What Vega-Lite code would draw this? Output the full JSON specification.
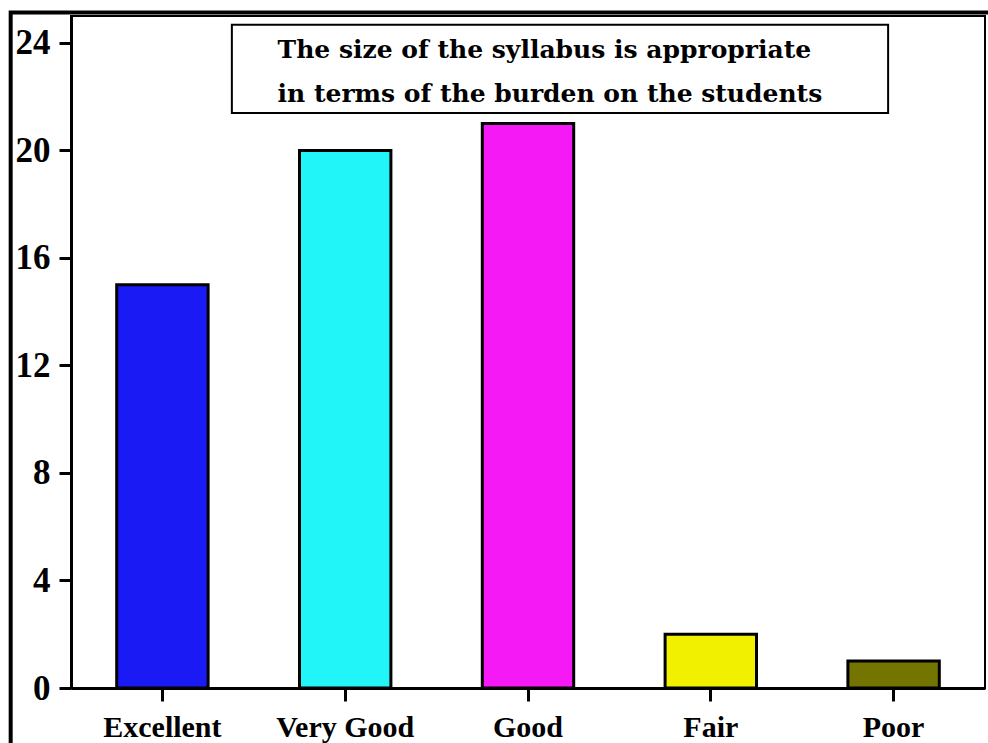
{
  "$schema": "https://vega.github.io/schema/vega-lite/v6.json",
  "width": 914,
  "height": 672,
  "autosize": {"type": "none"},
  "padding": {"left": 71, "top": 16, "right": 3, "bottom": 55},
  "background": "white",
  "config": {
    "view": {"stroke": "black", "strokeWidth": 2},
    "axis": {"grid": false, "labelFont": "Liberation Serif", "labelFontWeight": "bold", "labelColor": "black", "domainColor": "black", "tickColor": "black"}
  },
  "layer": [
    {
      "data": {"values": [
        {"rating": "Excellent", "count": 15, "color": "#1a1af5"},
        {"rating": "Very Good", "count": 20, "color": "#22f5f8"},
        {"rating": "Good", "count": 21, "color": "#f51af5"},
        {"rating": "Fair", "count": 2, "color": "#f0f000"},
        {"rating": "Poor", "count": 1, "color": "#747400"}
      ]},
      "mark": {"type": "bar", "stroke": "black", "strokeWidth": 3},
      "encoding": {
        "x": {"field": "rating", "type": "nominal", "sort": null,
          "scale": {"paddingInner": 0.5, "paddingOuter": 0.25},
          "axis": {"title": null, "labelAngle": 0, "labelFontSize": 30, "tickSize": 13, "tickWidth": 3, "domainWidth": 3, "labelPadding": 11}},
        "y": {"field": "count", "type": "quantitative",
          "scale": {"domain": [0, 25], "nice": false},
          "axis": {"title": null, "values": [0, 4, 8, 12, 16, 20, 24], "labelFontSize": 35, "tickSize": 12, "tickWidth": 3, "domainWidth": 3, "labelPadding": 9, "labelBaseline": "middle"}},
        "color": {"field": "color", "type": "nominal", "scale": null, "legend": null}
      }
    },
    {
      "data": {"values": [{"x0": 17.6, "x1": 89.4, "y0": 21.39, "y1": 24.67}]},
      "mark": {"type": "rect", "fill": "white", "stroke": "black", "strokeWidth": 2},
      "encoding": {
        "x": {"field": "x0", "type": "quantitative", "scale": {"domain": [0, 100], "nice": false, "zero": false}, "axis": null},
        "x2": {"field": "x1"},
        "y": {"field": "y0", "type": "quantitative", "scale": {"domain": [0, 25], "nice": false}},
        "y2": {"field": "y1"}
      }
    },
    {
      "data": {"values": [
        {"label": "The size of the syllabus is appropriate", "px": 22.6, "py": 23.74},
        {"label": "in terms of the burden on the students", "px": 22.6, "py": 22.1}
      ]},
      "mark": {"type": "text", "align": "left", "baseline": "middle", "font": "DejaVu Serif", "fontWeight": "bold", "fontSize": 25, "color": "black"},
      "encoding": {
        "x": {"field": "px", "type": "quantitative", "scale": {"domain": [0, 100], "nice": false, "zero": false}, "axis": null},
        "y": {"field": "py", "type": "quantitative", "scale": {"domain": [0, 25], "nice": false}},
        "text": {"field": "label"}
      }
    },
    {
      "data": {"values": [{"x0": -6.6, "x1": 120, "y0": -5, "y1": 25.13}]},
      "mark": {"type": "rect", "fillOpacity": 0, "stroke": "black", "strokeWidth": 4},
      "encoding": {
        "x": {"field": "x0", "type": "quantitative", "scale": {"domain": [0, 100], "nice": false, "zero": false}, "axis": null},
        "x2": {"field": "x1"},
        "y": {"field": "y0", "type": "quantitative", "scale": {"domain": [0, 25], "nice": false}},
        "y2": {"field": "y1"}
      }
    }
  ],
  "resolve": {"scale": {"x": "independent"}}
}
